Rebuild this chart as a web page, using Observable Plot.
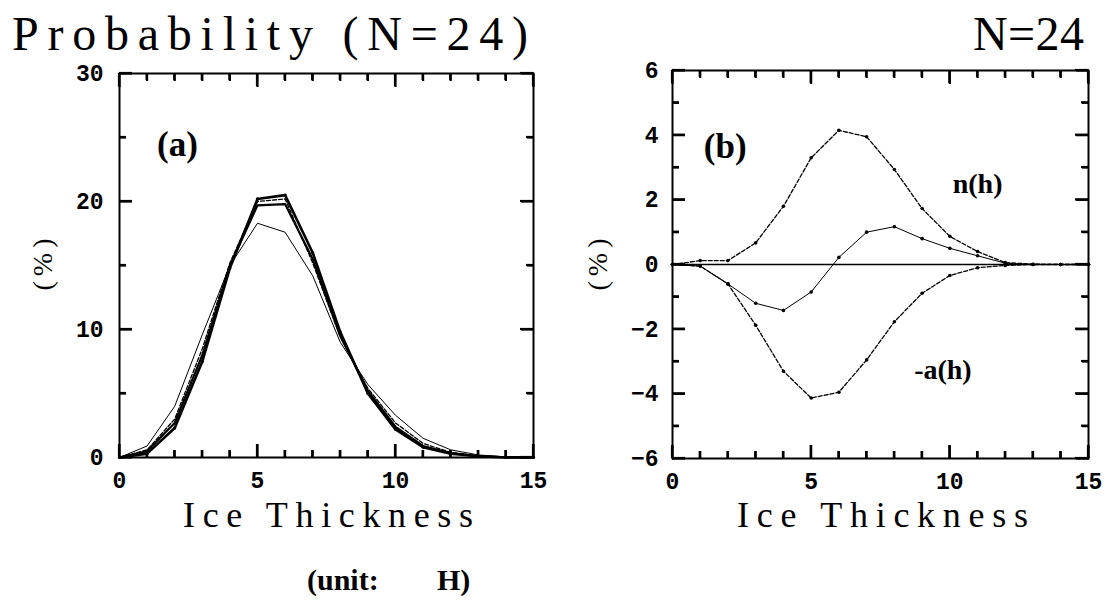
<!DOCTYPE html>
<html>
<head>
<meta charset="utf-8">
<script src="https://cdn.jsdelivr.net/npm/d3@7"></script>
<script src="https://cdn.jsdelivr.net/npm/@observablehq/plot@0.6"></script>
<style>
  html, body { margin: 0; padding: 0; background: #fff; }
  #wrap { position: relative; width: 1106px; height: 605px; overflow: hidden; background: #fff; color: #000; }
  .panel { position: absolute; top: 0; }
  .lbl { position: absolute; white-space: pre; line-height: 1; font-family: "Liberation Serif", serif; color: #000; }
</style>
</head>
<body>
<div id="wrap"></div>
<script>
// ---------- data ----------
const thickness = [0, 1, 2, 3, 4, 5, 6, 7, 8, 9, 10, 11, 12, 13, 14, 15];

// panel (a): probability (%) of ice thickness, four runs
const probThick1 = [0, 0.3, 2.3, 7.5, 14.8, 20.2, 20.5, 16.0, 9.8, 5.0, 2.2, 0.8, 0.3, 0.1, 0.0, 0.0];
const probThick2 = [0, 0.5, 2.7, 8.0, 15.0, 19.7, 19.8, 15.5, 9.5, 5.2, 2.4, 0.9, 0.35, 0.1, 0.02, 0.0];
const probDashed = [0, 0.6, 3.0, 8.5, 15.2, 20.0, 20.2, 15.2, 9.4, 5.4, 2.7, 1.1, 0.4, 0.12, 0.03, 0.0];
const probThin   = [0, 0.9, 4.0, 9.6, 15.0, 18.3, 17.6, 14.2, 9.0, 5.7, 3.3, 1.5, 0.6, 0.2, 0.05, 0.0];

// panel (b): n(h), -a(h) and net change (%)
const nH   = [0, 0.12, 0.12, 0.67, 1.8, 3.3, 4.15, 3.95, 2.94, 1.73, 0.87, 0.4, 0.06, 0.01, 0, 0];
const negA = [0, -0.05, -0.6, -1.88, -3.3, -4.13, -3.95, -2.95, -1.77, -0.89, -0.34, -0.1, -0.03, 0, 0, 0];
const netH = [0, -0.05, -0.6, -1.2, -1.42, -0.85, 0.22, 1.0, 1.17, 0.8, 0.5, 0.27, 0.04, 0, 0, 0];

// ticks
const xMajor = [0, 5, 10, 15];
const xMinor = [1, 2, 3, 4, 6, 7, 8, 9, 11, 12, 13, 14];
const yMajorA = [0, 10, 20, 30];
const yMinorA = [5, 15, 25];
const yMajorB = [-6, -4, -2, 0, 2, 4, 6];
const yMinorB = [-5, -3, -1, 1, 3, 5];

// texts
const titleText = "Probability (N=24)";
const titleRight = "N=24";
const xLabel = "Ice Thickness";
const yLabel = "(%)";
const unitWord = "(unit:";
const unitSym = "H)";

// ---------- helpers ----------
const tickFont = {fontSize: 23, fontFamily: "Liberation Mono, monospace", fontWeight: "bold"};
const minus = (d) => (d < 0 ? "\u2212" + Math.abs(d) : String(d));

// inward tick marks on the frame, as Plot axis marks with negative tick length
function frameTicks(xMaj, xMin, yMaj, yMin) {
  const blank = () => "";
  const c = {tickFormat: blank, label: null, stroke: "black", strokeWidth: 2.2};
  return [
    Plot.axisX({anchor: "bottom", ticks: xMaj, tickSize: -13, ...c}),
    Plot.axisX({anchor: "bottom", ticks: xMin, tickSize: -7, ...c}),
    Plot.axisX({anchor: "top", ticks: xMaj, tickSize: -13, ...c}),
    Plot.axisX({anchor: "top", ticks: xMin, tickSize: -7, ...c}),
    Plot.axisY({anchor: "left", ticks: yMaj, tickSize: -13, ...c}),
    Plot.axisY({anchor: "left", ticks: yMin, tickSize: -7, ...c}),
    Plot.axisY({anchor: "right", ticks: yMaj, tickSize: -13, ...c}),
    Plot.axisY({anchor: "right", ticks: yMin, tickSize: -7, ...c})
  ];
}

// fallback: draw the same inward ticks with d3 using the plot's own scales
function addScaleTicks(chart, xMaj, xMin, yMaj, yMin) {
  const sx = chart.scale("x"), sy = chart.scale("y");
  const [x0, x1] = sx.range, [y0, y1] = sy.range; // y0 bottom, y1 top
  const g = d3.select(chart).append("g").attr("stroke", "black").attr("stroke-width", 2.2);
  const seg = (a, b, c, d) => g.append("line").attr("x1", a).attr("y1", b).attr("x2", c).attr("y2", d);
  for (const [vals, len] of [[xMaj, 13], [xMin, 7]]) for (const v of vals) {
    const px = sx.apply(v);
    seg(px, y0, px, y0 - len);
    seg(px, y1, px, y1 + len);
  }
  for (const [vals, len] of [[yMaj, 13], [yMin, 7]]) for (const v of vals) {
    const py = sy.apply(v);
    seg(x0, py, x0 + len, py);
    seg(x1, py, x1 - len, py);
  }
}

const rowsA = thickness.map((h, i) => ({h, t1: probThick1[i], t2: probThick2[i], d: probDashed[i], n: probThin[i]}));
const rowsB = thickness.map((h, i) => ({h, n: nH[i], a: negA[i], net: netH[i]}));

const annot = {fontFamily: "Liberation Serif, serif", fontWeight: "bold", fill: "black"};

// ---------- panel (a) ----------
const chartA = Plot.plot({
  width: 560, height: 605, marginLeft: 119, marginRight: 27, marginTop: 73, marginBottom: 148,
  x: {domain: [0, 15], label: null},
  y: {domain: [0, 30], label: null},
  style: {background: "transparent"},
  marks: [
    Plot.line(rowsA, {x: "h", y: "n", stroke: "black", strokeWidth: 1}),
    Plot.line(rowsA, {x: "h", y: "d", stroke: "black", strokeWidth: 1.3, strokeDasharray: "4,2"}),
    Plot.line(rowsA, {x: "h", y: "t2", stroke: "black", strokeWidth: 2.2}),
    Plot.line(rowsA, {x: "h", y: "t1", stroke: "black", strokeWidth: 2.6}),
    Plot.dot(rowsA, {x: "h", y: "t1", r: 1.6, fill: "black"}),
    Plot.frame({stroke: "black", strokeWidth: 2}),
    ...frameTicks(xMajor, xMinor, yMajorA, yMinorA),
    Plot.axisX({anchor: "bottom", ticks: xMajor, tickSize: 0, tickPadding: 14, label: null, ...tickFont}),
    Plot.axisY({anchor: "left", ticks: yMajorA, tickSize: 0, tickPadding: 16, label: null, ...tickFont}),
    Plot.text(["(a)"], {x: 2.1, y: 24.4, text: (d) => d, fontSize: 35, ...annot})
  ]
});

// ---------- panel (b) ----------
const chartB = Plot.plot({
  width: 546, height: 605, marginLeft: 112, marginRight: 18, marginTop: 70, marginBottom: 147,
  x: {domain: [0, 15], label: null},
  y: {domain: [-6, 6], label: null},
  style: {background: "transparent"},
  marks: [
    Plot.ruleY([0], {stroke: "black", strokeWidth: 1.5}),
    Plot.line(rowsB, {x: "h", y: "n", stroke: "black", strokeWidth: 1.3, strokeDasharray: "4,2"}),
    Plot.line(rowsB, {x: "h", y: "a", stroke: "black", strokeWidth: 1.3, strokeDasharray: "4,2"}),
    Plot.line(rowsB, {x: "h", y: "net", stroke: "black", strokeWidth: 1}),
    Plot.dot(rowsB, {x: "h", y: "n", r: 1.8, fill: "black"}),
    Plot.dot(rowsB, {x: "h", y: "a", r: 1.8, fill: "black"}),
    Plot.dot(rowsB, {x: "h", y: "net", r: 1.8, fill: "black"}),
    Plot.frame({stroke: "black", strokeWidth: 2}),
    ...frameTicks(xMajor, xMinor, yMajorB, yMinorB),
    Plot.axisX({anchor: "bottom", ticks: xMajor, tickSize: 0, tickPadding: 14, label: null, ...tickFont}),
    Plot.axisY({anchor: "left", ticks: yMajorB, tickSize: 0, tickPadding: 14, label: null, tickFormat: minus, ...tickFont}),
    Plot.text(["(b)"], {x: 1.9, y: 3.65, text: (d) => d, fontSize: 35, ...annot}),
    Plot.text(["n(h)"], {x: 11.0, y: 2.48, text: (d) => d, fontSize: 28, ...annot}),
    Plot.text(["-a(h)"], {x: 9.75, y: -3.25, text: (d) => d, fontSize: 28, ...annot})
  ]
});

try { addScaleTicks(chartA, xMajor, xMinor, yMajorA, yMinorA); } catch (e) {}
try { addScaleTicks(chartB, xMajor, xMinor, yMajorB, yMinorB); } catch (e) {}

const wrap = document.getElementById("wrap");
chartA.classList.add("panel"); chartA.style.left = "0px";
chartB.classList.add("panel"); chartB.style.left = "560px";
wrap.appendChild(chartA);
wrap.appendChild(chartB);

// ---------- html texts ----------
function addText(text, {left, baseline, width, size, weight = "normal"}) {
  const el = document.createElement("div");
  el.className = "lbl";
  el.textContent = text;
  el.style.fontSize = size + "px";
  el.style.fontWeight = weight;
  wrap.appendChild(el);
  if (width) {
    const natural = el.getBoundingClientRect().width;
    el.style.letterSpacing = ((width - natural) / (text.length - 1)) + "px";
  }
  el.style.left = left + "px";
  el.style.top = (baseline - 0.8375 * size) + "px";
  return el;
}
function addRotated(text, {cx, cy, size, spacing}) {
  const el = document.createElement("div");
  el.className = "lbl";
  el.textContent = text;
  el.style.fontSize = size + "px";
  el.style.letterSpacing = spacing + "px";
  el.style.left = cx + "px";
  el.style.top = cy + "px";
  el.style.transform = "translate(-50%, -50%) rotate(-90deg)";
  wrap.appendChild(el);
}

addText(titleText, {left: 12, baseline: 50, width: 516, size: 48});
addText(titleRight, {left: 973, baseline: 50, width: 111, size: 48});
addText(xLabel, {left: 183, baseline: 527, width: 290, size: 36});
addText(xLabel, {left: 737, baseline: 527, width: 291, size: 36});
addRotated(yLabel, {cx: 43, cy: 262, size: 28, spacing: 5});
addRotated(yLabel, {cx: 598, cy: 262, size: 28, spacing: 5});
addText(unitWord, {left: 307, baseline: 590, size: 30, weight: "bold"});
addText(unitSym, {left: 437, baseline: 590, size: 30, weight: "bold"});
</script>
</body>
</html>
